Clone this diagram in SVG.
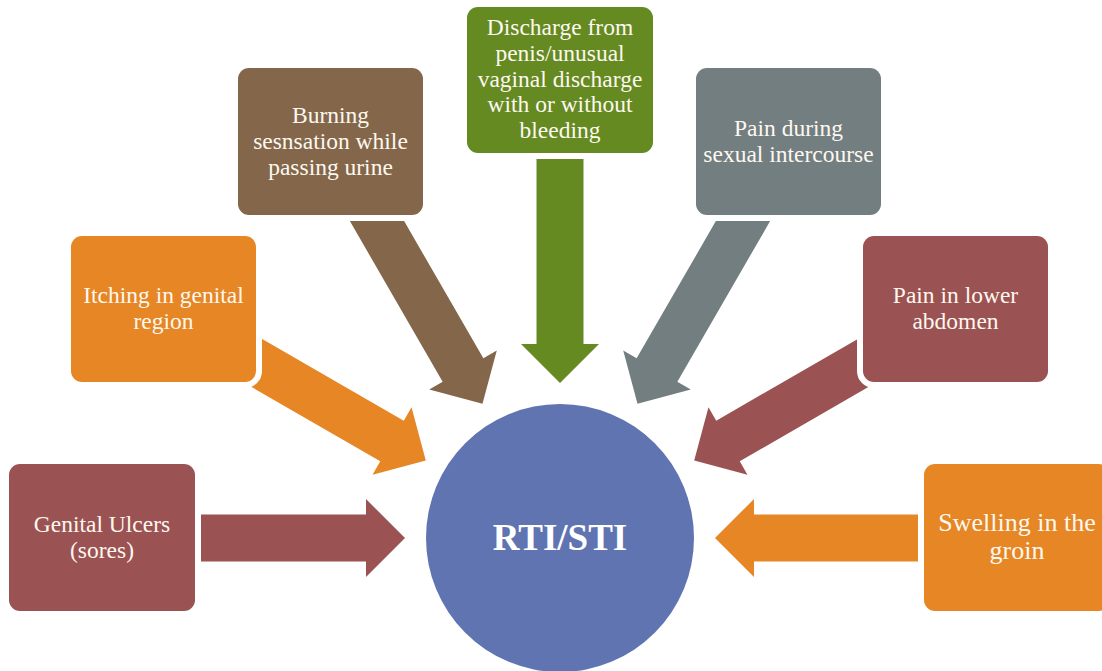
<svg xmlns="http://www.w3.org/2000/svg" width="1102" height="671" viewBox="0 0 1102 671" font-family="Liberation Serif">
<style>
  .box { stroke: #ffffff; stroke-width: 12; paint-order: stroke; }
  .lbl { font-size: 23.5px; fill: #fdf8f0; text-anchor: middle; }
  .big { font-size: 26px; }
  .red { fill: #9b5252; }
  .orange { fill: #e68624; }
  .brown { fill: #84674a; }
  .green { fill: #648a21; }
  .gray { fill: #737e81; }
</style>
<defs>
  <polygon id="arr210" points="0,0 -39,-39 -39,-23.5 -210,-23.5 -210,23.5 -39,23.5 -39,39"/>
  <polygon id="arr228" points="0,0 -39,-39 -39,-23.5 -228,-23.5 -228,23.5 -39,23.5 -39,39"/>
  <polygon id="arr232" points="0,0 -39,-39 -39,-23.5 -232,-23.5 -232,23.5 -39,23.5 -39,39"/>
</defs>
<rect width="1102" height="671" fill="#ffffff"/>

<g id="connectors">
  <use href="#arr210" class="red" transform="translate(405,538)"/>
  <use href="#arr210" class="orange" transform="translate(425.8,460.5) rotate(30)"/>
  <use href="#arr228" class="brown" transform="translate(482.5,403.8) rotate(60)"/>
  <use href="#arr232" class="green" transform="translate(560,383) rotate(90)"/>
  <use href="#arr228" class="gray" transform="translate(637.5,403.8) rotate(120)"/>
  <use href="#arr210" class="red" transform="translate(694.2,460.5) rotate(150)"/>
  <use href="#arr210" class="orange" transform="translate(715,538) rotate(180)"/>
</g>

<g id="center">
  <circle cx="560" cy="538" r="134" fill="#5f74b1"/>
  <text x="560" y="550" font-family="Liberation Serif" font-size="37" font-weight="bold" fill="#ffffff" text-anchor="middle">RTI/STI</text>
</g>

<g id="genital-ulcers">
  <rect class="box red" x="9" y="464" width="186" height="147" rx="11"/>
  <text class="lbl" font-family="Liberation Serif" x="102" y="532">Genital Ulcers</text>
  <text class="lbl" font-family="Liberation Serif" x="102" y="558">(sores)</text>
</g>

<g id="itching">
  <rect class="box orange" x="71" y="236" width="185" height="146" rx="11"/>
  <text class="lbl" font-family="Liberation Serif" x="163.5" y="303">Itching in genital</text>
  <text class="lbl" font-family="Liberation Serif" x="163.5" y="329">region</text>
</g>

<g id="burning">
  <rect class="box brown" x="238" y="68" width="185" height="147" rx="11"/>
  <text class="lbl" font-family="Liberation Serif" x="330.5" y="123">Burning</text>
  <text class="lbl" font-family="Liberation Serif" x="330.5" y="149">sesnsation while</text>
  <text class="lbl" font-family="Liberation Serif" x="330.5" y="175">passing urine</text>
</g>

<g id="discharge">
  <rect class="box green" x="467" y="7" width="186" height="146" rx="11"/>
  <text class="lbl" font-family="Liberation Serif" x="560" y="35">Discharge from</text>
  <text class="lbl" font-family="Liberation Serif" x="560" y="61">penis/unusual</text>
  <text class="lbl" font-family="Liberation Serif" x="560" y="87">vaginal discharge</text>
  <text class="lbl" font-family="Liberation Serif" x="560" y="112">with or without</text>
  <text class="lbl" font-family="Liberation Serif" x="560" y="138">bleeding</text>
</g>

<g id="pain-intercourse">
  <rect class="box gray" x="696" y="68" width="185" height="147" rx="11"/>
  <text class="lbl" font-family="Liberation Serif" x="788.5" y="136">Pain during</text>
  <text class="lbl" font-family="Liberation Serif" x="788.5" y="162">sexual intercourse</text>
</g>

<g id="pain-abdomen">
  <rect class="box red" x="863" y="236" width="185" height="146" rx="11"/>
  <text class="lbl" font-family="Liberation Serif" x="955.5" y="303">Pain in lower</text>
  <text class="lbl" font-family="Liberation Serif" x="955.5" y="329">abdomen</text>
</g>

<g id="swelling">
  <rect class="box orange" x="924" y="464" width="186" height="147" rx="11"/>
  <text class="lbl big" font-family="Liberation Serif" x="1017" y="531">Swelling in the</text>
  <text class="lbl big" font-family="Liberation Serif" x="1017" y="559">groin</text>
</g>
</svg>
